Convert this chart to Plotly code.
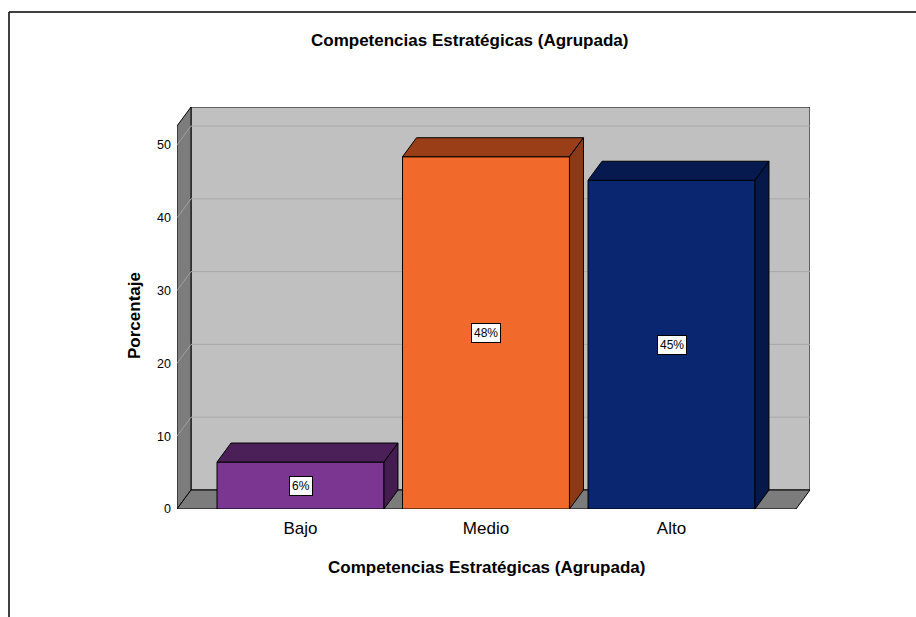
import plotly.graph_objects as go

# ---- data ----
categories = ["Bajo", "Medio", "Alto"]
percentages = [6.45, 48.39, 45.16]
front_colors = ["#7a3690", "#f26a2b", "#0b2670"]
top_colors = ["#4b2059", "#9a3e17", "#061a50"]
side_colors = ["#441c51", "#8e3915", "#051849"]
y_ticks = [0, 10, 20, 30, 40, 50]
title_text = "Competencias Estratégicas (Agrupada)"
x_title = "Competencias Estratégicas (Agrupada)"
y_title = "Porcentaje"

# ---- layout geometry (pixels) ----
W, H = 916, 617
L, R, T, B = 177, 106, 107, 108
pw, ph = W - L - R, H - T - B
px_per_cat = 185.5
px_per_unit = 7.28
cat0_px = 300.5
x_min = (L - cat0_px) / px_per_cat
x_max = (W - R - cat0_px) / px_per_cat
y_max = ph / px_per_unit
dx = 14 / px_per_cat
dy = 19 / px_per_unit
bw = 0.9

def px(xp):
    return (xp - L) / pw

def py(yp):
    return (H - B - yp) / ph

fig = go.Figure()

# front faces of bars
xs = list(range(len(categories)))
fig.add_trace(go.Bar(
    x=xs, y=percentages, width=bw,
    marker=dict(color=front_colors, line=dict(color="black", width=1)),
    hoverinfo="skip", showlegend=False,
))

# 3D top and side faces
for i, v in enumerate(percentages):
    x0, x1 = i - bw / 2, i + bw / 2
    fig.add_trace(go.Scatter(
        x=[x0, x1, x1 + dx, x0 + dx, x0], y=[v, v, v + dy, v + dy, v],
        mode="lines", fill="toself", fillcolor=top_colors[i],
        line=dict(color="black", width=1), hoverinfo="skip", showlegend=False))
    fig.add_trace(go.Scatter(
        x=[x1, x1 + dx, x1 + dx, x1, x1], y=[0, dy, v + dy, v, 0],
        mode="lines", fill="toself", fillcolor=side_colors[i],
        line=dict(color="black", width=1), hoverinfo="skip", showlegend=False))

shapes = []
xr_front = x_max - dx
y_top_front = y_max - dy
# back wall
shapes.append(dict(type="rect", xref="x", yref="y", x0=x_min + dx, x1=x_max, y0=dy, y1=y_max,
                   fillcolor="#c0c0c0", line=dict(color="black", width=1), layer="below"))
# left wall
shapes.append(dict(type="path", xref="x", yref="y",
                   path=f"M {x_min},0 L {x_min},{y_top_front} L {x_min+dx},{y_max} L {x_min+dx},{dy} Z",
                   fillcolor="#7c7c7c", line=dict(color="black", width=1), layer="below"))
# floor
shapes.append(dict(type="path", xref="x", yref="y",
                   path=f"M {x_min},0 L {xr_front},0 L {x_max},{dy} L {x_min+dx},{dy} Z",
                   fillcolor="#7c7c7c", line=dict(color="black", width=1), layer="below"))
# gridlines
for t in y_ticks[1:]:
    shapes.append(dict(type="line", xref="x", yref="y", x0=x_min + dx, x1=x_max, y0=t + dy, y1=t + dy,
                       line=dict(color="#a8a8a8", width=1), layer="below"))
    shapes.append(dict(type="line", xref="x", yref="y", x0=x_min, x1=x_min + dx, y0=t, y1=t + dy,
                       line=dict(color="#a0a0a0", width=1), layer="below"))
# outer frame
shapes.append(dict(type="line", xref="paper", yref="paper", x0=px(9), x1=px(W + 2), y0=py(12), y1=py(12),
                   line=dict(color="black", width=1.5)))
shapes.append(dict(type="line", xref="paper", yref="paper", x0=px(9), x1=px(9), y0=py(12), y1=py(H + 2),
                   line=dict(color="black", width=1.5)))

FONT = "Liberation Sans, Arial"
annotations = []
for i, v in enumerate(percentages):
    annotations.append(dict(x=i, y=v / 2, xref="x", yref="y", text=f"{round(v)}%", showarrow=False,
                            xanchor="center", yanchor="middle",
                            font=dict(family=FONT, size=12, color="black"),
                            bgcolor="white", bordercolor="black", borderwidth=1, borderpad=2))
annotations.append(dict(x=px(469.5), y=py(41), xref="paper", yref="paper", text=f"<b>{title_text}</b>",
                        xanchor="center", yanchor="middle",
                        showarrow=False, font=dict(family=FONT, size=17, color="black")))
annotations.append(dict(x=px(486.5), y=py(567), xref="paper", yref="paper", text=f"<b>{x_title}</b>",
                        xanchor="center", yanchor="middle",
                        showarrow=False, font=dict(family=FONT, size=17, color="black")))
annotations.append(dict(x=px(134), y=py(316), xref="paper", yref="paper", text=f"<b>{y_title}</b>",
                        xanchor="center", yanchor="middle",
                        textangle=-90, showarrow=False,
                        font=dict(family=FONT, size=17, color="black")))

fig.update_layout(
    width=W, height=H,
    margin=dict(l=L, r=R, t=T, b=B, pad=0),
    paper_bgcolor="white", plot_bgcolor="white",
    showlegend=False,
    shapes=shapes, annotations=annotations,
    font=dict(family=FONT, color="black"),
    xaxis=dict(range=[x_min, x_max], tickvals=xs, ticktext=categories, showgrid=False,
               zeroline=False, showline=False, ticks="", tickfont=dict(size=17), ticklabelstandoff=7,
               fixedrange=True),
    yaxis=dict(range=[0, y_max], tickvals=y_ticks, showgrid=False, zeroline=False, showline=False,
               ticks="", tickfont=dict(size=12.5), ticklabelstandoff=5, fixedrange=True),
)

fig.write_html("out.html", config={"displayModeBar": False})
